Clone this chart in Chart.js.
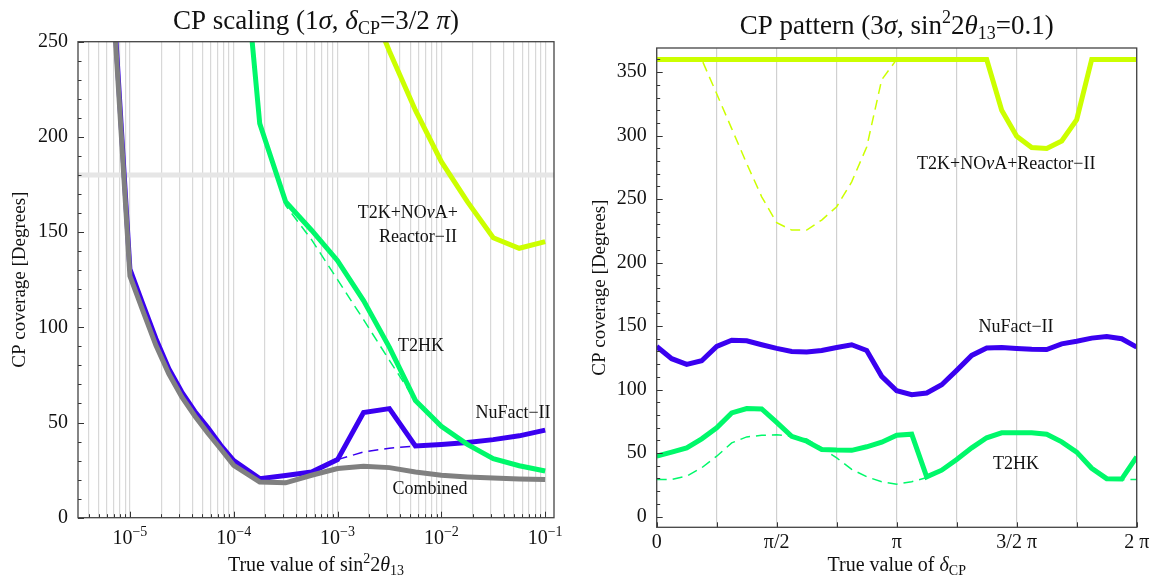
<!DOCTYPE html>
<html>
<head>
<meta charset="utf-8">
<script src="https://cdn.jsdelivr.net/npm/chart.js@4.4.1/dist/chart.umd.min.js"></script>
<style>
  html, body { margin: 0; padding: 0; background: #fff; }
  #wrap { position: relative; width: 1151px; height: 577px; }
  canvas { position: absolute; top: 0; }
</style>
</head>
<body>
<div id="wrap">
  <canvas id="scan" width="580" height="577" style="left:0"></canvas>
  <canvas id="pattern" width="571" height="577" style="left:580px"></canvas>
</div>
<script>
// ---- left panel: CP scaling (1 sigma, dCP = 3/2 pi) ----
const scanX = [5.62e-6, 1e-5, 1.33e-5, 1.78e-5, 2.37e-5, 3.16e-5, 4.22e-5, 5.62e-5, 7.5e-5, 1e-4,
  1.78e-4, 3.16e-4, 5.62e-4, 1e-3, 1.78e-3, 3.16e-3, 5.62e-3, 1e-2, 1.78e-2, 3.16e-2, 5.62e-2, 1e-1];
const scanNuFact = [355, 130.5, 112.3, 94, 78.2, 66, 55.8, 47.3, 38, 30,
  20.5, 22.2, 24, 30.5, 55.2, 57.3, 37.7, 38.5, 39.5, 41, 43, 46];
const scanNuFactDash = [null, null, null, null, null, null, null, null, null, null,
  null, null, null, 30.5, 34.5, 36.5, 37.7, null, null, null, null, null];
const scanCombined = [350, 127, 108.8, 90.5, 75.6, 63.4, 53.4, 44.5, 36.1, 27.5,
  18.8, 18.3, 22.3, 25.8, 27, 26.3, 24, 22.3, 21.4, 20.8, 20.3, 20];
const scanT2HK = [null, null, null, null, null, null, null, null, null, 355,
  207, 166, 151, 135, 114, 89.5, 61.6, 48, 38.5, 31, 27.3, 24.5];
const scanT2HKDash = [null, null, null, null, null, null, null, null, null, null,
  207, 164, 146, 125, 104, 82.6, 61.6, null, null, null, null, null];
const scanSuperbeam = [null, null, null, null, null, null, null, null, null, null,
  null, null, null, null, 278, 245, 214, 187, 166, 147, 141.5, 145];
const halfCircle = 180;
const scanDecades = [-5, -4, -3, -2, -1];
const scanYTicks = [0, 50, 100, 150, 200, 250];

// ---- right panel: CP pattern (3 sigma, sin^2 2theta13 = 0.1) ----
const phaseDeg = [0, 11.25, 22.5, 33.75, 45, 56.25, 67.5, 78.75, 90, 101.25, 112.5, 123.75, 135,
  146.25, 157.5, 168.75, 180, 191.25, 202.5, 213.75, 225, 236.25, 247.5, 258.75, 270,
  281.25, 292.5, 303.75, 315, 326.25, 337.5, 348.75, 360];
const patNuFact = [133.9, 124.3, 119.8, 122.7, 133.9, 138.9, 138.4, 135.3, 132.4, 130, 129.5, 130.8, 133.1,
  135.3, 130.8, 110.4, 99.1, 96, 97.3, 103.8, 115.1, 126.9, 132.7, 133.1, 132.4,
  131.8, 131.5, 136, 138, 140.5, 141.8, 140, 133.4];
const patT2HK = [47.5, 50.7, 54.1, 61.2, 69.8, 81.6, 85, 84.7, 74.2, 63.2, 59.3, 52.8, 52.3,
  52.1, 54.9, 58.5, 64, 64.8, 31.3, 36.5, 44.9, 54.1, 62, 65.9, 65.9,
  65.9, 64.8, 58.8, 50.7, 38, 29.8, 29.5, 47];
const patT2HKDash = [29.2, 29.2, 31.8, 38.4, 47.5, 58, 62.7, 64, 64.3, 63.2, 61, 54, 46.2,
  37.1, 31.3, 27.4, 25.5, 27.4, 30.7, 36.5, 44.9, 54.1, 62, 65.9, 65.9,
  65.9, 64.8, 58.8, 50.7, 38, 29.8, 29, 29.2];
const patSuperbeam = [360, 360, 360, 360, 360, 360, 360, 360, 360, 360, 360, 360, 360,
  360, 360, 360, 360, 360, 360, 360, 360, 360, 360, 320, 299.5,
  290.6, 289.8, 295.8, 312.6, 360, 360, 360, 360];
const patSuperbeamDash = [360, 360, 360, 360, 333, 305.5, 278, 251.8, 231.4, 225.6, 225.6, 233.5, 244,
  263.6, 291, 344, 360, 360, 360, 360, 360, 360, 360, 320, 299.5,
  290.6, 289.8, 295.8, 312.6, 360, 360, 360, 360];
const patGridDeg = [0, 45, 90, 135, 180, 225, 270, 315, 360];
const patLabelDeg = [0, 90, 180, 270, 360];
const patLabels = ['0', 'π/2', 'π', '3/2 π', '2 π'];
const patYTicks = [0, 50, 100, 150, 200, 250, 300, 350];

const YELLOW = '#ccff00', GREEN = '#00f86a', BLUE = '#3a00f0', GRAY = '#808080';
const serif = "'Liberation Serif', 'Times New Roman', serif";

function font(size, italic) {
  return (italic ? 'italic ' : '') + size + 'px ' + serif;
}

// draws text made of pieces (sub/superscripts, italics)
function drawRich(ctx, parts, x, y, align) {
  let w = 0;
  parts.forEach(p => { ctx.font = font(p.s || 18, p.i); w += ctx.measureText(p.t).width; });
  let cx = align == 'center' ? x - w / 2 : align == 'right' ? x - w : x;
  ctx.textAlign = 'left';
  ctx.textBaseline = 'alphabetic';
  parts.forEach(p => {
    ctx.font = font(p.s || 18, p.i);
    ctx.fillText(p.t, cx, y + (p.dy || 0));
    cx += ctx.measureText(p.t).width;
  });
}

function pts(xs, ys) {
  const out = [];
  xs.forEach((x, i) => { if (ys[i] != null) out.push({ x: x, y: ys[i] }); });
  return out;
}

function line(data, color, dashed, order) {
  return {
    data: data,
    borderColor: color,
    borderWidth: dashed ? 1.5 : 5,
    borderDash: dashed ? [10, 6] : [],
    pointRadius: 0,
    tension: 0,
    fill: false,
    clip: 0,
    order: order
  };
}

function decor(opt) {
  return {
    id: 'decor',
    afterDraw(chart) {
      const ctx = chart.ctx, a = chart.chartArea, x = chart.scales.x, y = chart.scales.y;
      ctx.save();
      ctx.fillStyle = '#111';
      // inner tick marks
      ctx.strokeStyle = '#333';
      ctx.lineWidth = 1;
      ctx.beginPath();
      for (let v = 0; v <= y.max; v += 10) {
        const p = Math.round(y.getPixelForValue(v)) + 0.5;
        const len = v % 50 == 0 ? 6 : 3.5;
        ctx.moveTo(a.left, p); ctx.lineTo(a.left + len, p);
      }
      opt.xMarks.forEach(m => {
        const p = Math.round(x.getPixelForValue(m[0])) + 0.5;
        ctx.moveTo(p, a.bottom); ctx.lineTo(p, a.bottom - m[1]);
      });
      ctx.stroke();
      // frame
      ctx.strokeStyle = '#444';
      ctx.lineWidth = 1.3;
      ctx.strokeRect(a.left, a.top, a.right - a.left, a.bottom - a.top);
      // x tick labels
      opt.xLabels.forEach(l => drawRich(ctx, l.parts, x.getPixelForValue(l.v), opt.xLabelY, 'center'));
      // titles
      drawRich(ctx, opt.title, (a.left + a.right) / 2, opt.titleY, 'center');
      drawRich(ctx, opt.xTitle, (a.left + a.right) / 2, 571, 'center');
      ctx.save();
      ctx.translate(opt.yTitleX, (a.top + a.bottom) / 2);
      ctx.rotate(-Math.PI / 2);
      drawRich(ctx, [{ t: 'CP coverage [Degrees]', s: 19 }], 0, 6, 'center');
      ctx.restore();
      // curve labels
      opt.notes.forEach(n => drawRich(ctx, n.parts, n.x, n.y, n.align));
      ctx.restore();
    }
  };
}

function yAxis(min, max, ticks, width) {
  return {
    min: min, max: max,
    grid: { display: false, drawTicks: false },
    border: { display: false },
    afterBuildTicks: s => { s.ticks = ticks.map(v => ({ value: v })); },
    afterFit: s => { s.width = width; },
    ticks: { font: { family: serif, size: 20 }, color: '#111', padding: 10 }
  };
}

// ---------- left chart ----------
const scanTickVals = [];
scanDecades.concat([-6]).forEach(d => {
  for (let m = 1; m <= 9; m++) scanTickVals.push(m * Math.pow(10, d));
});
const scanXMin = Math.pow(10, -5.5), scanXMax = Math.pow(10, -0.915);
const scanTicks = scanTickVals.filter(v => v > scanXMin && v < scanXMax).sort((a, b) => a - b);

new Chart(document.getElementById('scan'), {
  type: 'line',
  data: {
    datasets: [
      line(pts([scanXMin, scanXMax], [halfCircle, halfCircle]), '#e6e6e6', false, 10),
      line(pts(scanX, scanNuFact), BLUE, false, 6),
      line(pts(scanX, scanCombined), GRAY, false, 5),
      line(pts(scanX, scanNuFactDash), BLUE, true, 1),
      line(pts(scanX, scanT2HK), GREEN, false, 4),
      line(pts(scanX, scanT2HKDash), GREEN, true, 1),
      line(pts(scanX, scanSuperbeam), YELLOW, false, 3)
    ]
  },
  options: {
    responsive: false,
    animation: false,
    devicePixelRatio: 1,
    layout: { padding: { left: 0, top: 41.7, right: 26, bottom: 0 } },
    plugins: { legend: { display: false }, tooltip: { enabled: false } },
    scales: {
      x: {
        type: 'logarithmic',
        min: scanXMin, max: scanXMax,
        grid: { color: '#d8d8d8', lineWidth: 1.2, drawTicks: false },
        border: { display: false },
        ticks: { display: false },
        afterBuildTicks: s => { s.ticks = scanTicks.map(v => ({ value: v })); },
        afterFit: s => { s.height = 577 - 517.7; }
      },
      y: yAxis(0, 250, scanYTicks, 78)
    }
  },
  plugins: [decor({
    xMarks: scanTicks.map(v => [v, scanDecades.some(d => Math.abs(Math.pow(10, d) - v) < v * 1e-6) ? 6 : 3.5]),
    xLabels: scanDecades.map(d => ({
      v: Math.pow(10, d),
      parts: [{ t: '10', s: 20 }, { t: '−' + Math.abs(d), s: 14, dy: -8 }]
    })),
    xLabelY: 544,
    title: [{ t: 'CP scaling (1', s: 27 }, { t: 'σ', s: 27, i: true }, { t: ', ', s: 27 },
      { t: 'δ', s: 27, i: true }, { t: 'CP', s: 18, dy: 5 }, { t: '=3/2 ', s: 27 },
      { t: 'π', s: 27, i: true }, { t: ')', s: 27 }],
    titleY: 29,
    xTitle: [{ t: 'True value of sin', s: 20 }, { t: '2', s: 14, dy: -8 }, { t: '2', s: 20 },
      { t: 'θ', s: 20, i: true }, { t: '13', s: 14, dy: 4 }],
    yTitleX: 19,
    notes: [
      { parts: [{ t: 'T2K+NO' }, { t: 'ν', i: true }, { t: 'A+' }], x: 458, y: 218, align: 'right' },
      { parts: [{ t: 'Reactor−II' }], x: 457, y: 242, align: 'right' },
      { parts: [{ t: 'T2HK' }], x: 421, y: 351, align: 'center' },
      { parts: [{ t: 'NuFact−II' }], x: 513, y: 418, align: 'center' },
      { parts: [{ t: 'Combined' }], x: 430, y: 494, align: 'center' }
    ]
  })]
});

// ---------- right chart ----------
new Chart(document.getElementById('pattern'), {
  type: 'line',
  data: {
    datasets: [
      line(pts(phaseDeg, patNuFact), BLUE, false, 5),
      line(pts(phaseDeg, patT2HK), GREEN, false, 4),
      line(pts(phaseDeg, patT2HKDash), GREEN, true, 6),
      line(pts(phaseDeg, patSuperbeam), YELLOW, false, 3),
      line(pts(phaseDeg, patSuperbeamDash), YELLOW, true, 7)
    ]
  },
  options: {
    responsive: false,
    animation: false,
    devicePixelRatio: 1,
    layout: { padding: { left: 0, top: 48, right: 14.3, bottom: 0 } },
    plugins: { legend: { display: false }, tooltip: { enabled: false } },
    scales: {
      x: {
        type: 'linear',
        min: 0, max: 360,
        grid: { color: '#d0d0d0', lineWidth: 1.2, drawTicks: false },
        border: { display: false },
        ticks: { display: false },
        afterBuildTicks: s => { s.ticks = patGridDeg.map(v => ({ value: v })); },
        afterFit: s => { s.height = 577 - 527.3; }
      },
      y: yAxis(-8.5, 369, patYTicks, 76.7)
    }
  },
  plugins: [decor({
    xMarks: patGridDeg.map(v => [v, 5]),
    xLabels: patLabelDeg.map((v, i) => ({ v: v, parts: [{ t: patLabels[i], s: 20 }] })),
    xLabelY: 548,
    title: [{ t: 'CP pattern (3', s: 27 }, { t: 'σ', s: 27, i: true }, { t: ', sin', s: 27 },
      { t: '2', s: 18, dy: -11 }, { t: '2', s: 27 }, { t: 'θ', s: 27, i: true },
      { t: '13', s: 18, dy: 5 }, { t: '=0.1)', s: 27 }],
    titleY: 34,
    xTitle: [{ t: 'True value of ', s: 20 }, { t: 'δ', s: 20, i: true }, { t: 'CP', s: 14, dy: 4 }],
    yTitleX: 19,
    notes: [
      { parts: [{ t: 'T2K+NO' }, { t: 'ν', i: true }, { t: 'A+Reactor−II' }], x: 337, y: 169, align: 'left' },
      { parts: [{ t: 'NuFact−II' }], x: 436, y: 332, align: 'center' },
      { parts: [{ t: 'T2HK' }], x: 436, y: 469, align: 'center' }
    ]
  })]
});
</script>
</body>
</html>
